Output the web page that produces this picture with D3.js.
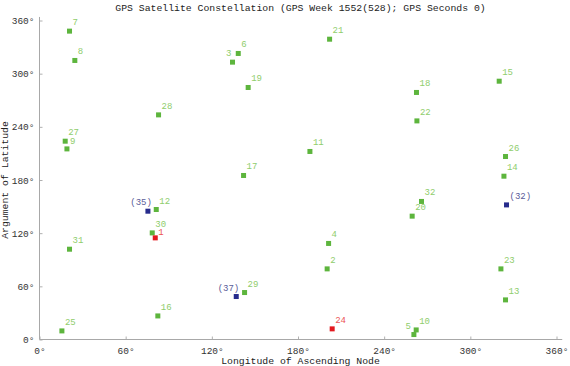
<!DOCTYPE html>
<html>
<head>
<meta charset="utf-8">
<script src="https://cdn.jsdelivr.net/npm/d3@7"></script>
<style>
  body { margin: 0; background: #fff; }
  svg text { font-family: "Liberation Mono", "DejaVu Sans Mono", monospace; }
</style>
</head>
<body>
<svg id="chart" width="570" height="366"></svg>
<script>
// satellite labels, longitude of ascending node (deg), argument of latitude (deg)
const satNames = ["7", "8", "3", "6", "19", "28", "27", "9", "17",
    "21", "15", "18", "22", "11", "26", "14",
    "(35)", "12", "30", "1", "31", "(37)", "29", "16", "25",
    "32", "(32)", "20", "4", "2", "23", "13", "24", "5", "10"];
const satLon = [20.9, 24.6, 134.4, 138.4, 145.3, 82.9, 17.9, 19.1, 142.1,
    202.0, 320.1, 262.5, 262.8, 188.3, 324.5, 323.4,
    75.5, 81.3, 78.5, 80.6, 20.9, 137.0, 142.8, 82.4, 15.6,
    266.0, 325.2, 259.5, 201.3, 200.3, 321.3, 324.5, 203.8, 260.7, 262.3];
const satLat = [348.0, 314.9, 313.0, 322.8, 284.4, 253.5, 223.8, 215.1, 185.1,
    338.9, 291.5, 278.8, 246.7, 212.2, 206.5, 184.3,
    144.8, 146.7, 120.3, 114.7, 101.9, 48.5, 53.0, 26.6, 9.7,
    155.8, 151.9, 139.2, 108.4, 79.7, 79.7, 44.7, 12.0, 5.6, 10.8];
// "ok" = healthy, "bad" = unhealthy, "spare" = entries in parentheses
const satStatus = ["ok", "ok", "ok", "ok", "ok", "ok", "ok", "ok", "ok",
    "ok", "ok", "ok", "ok", "ok", "ok", "ok",
    "spare", "ok", "ok", "bad", "ok", "spare", "ok", "ok", "ok",
    "ok", "spare", "ok", "ok", "ok", "ok", "ok", "bad", "ok", "ok"];
const tickDegrees = [0, 60, 120, 180, 240, 300, 360];

const markerColor = { ok: "#5db53d", bad: "#e3191f", spare: "#262b8c" };
const labelColor = { ok: "#8fcd6c", bad: "#ec5456", spare: "#5b5c99" };
// labels drawn on the left of their marker (text-anchor end), with x shift
const leftLabels = { "3": -1, "5": -3, "(35)": 4, "(37)": 3 };

const svg = d3.select("#chart");
const x = d3.scaleLinear().domain([0, 360]).range([39.5, 556.5]);
const y = d3.scaleLinear().domain([0, 360]).range([339.5, 20.5]);

const sats = satNames.map((n, i) => ({ name: n, lon: satLon[i], lat: satLat[i], status: satStatus[i] }));

// axes
const xAxis = svg.append("g")
    .attr("transform", `translate(0,${y(0)})`)
    .call(d3.axisBottom(x).tickValues(tickDegrees).tickFormat(d => d + "°").tickSizeInner(-3).tickSizeOuter(0).tickPadding(8));
const yAxis = svg.append("g")
    .attr("transform", `translate(${x(0)},0)`)
    .call(d3.axisLeft(y).tickValues(tickDegrees).tickFormat(d => d + "°").tickSizeInner(-3).tickSizeOuter(0).tickPadding(5));
[xAxis, yAxis].forEach(a => {
    a.select(".domain").remove();
    a.selectAll(".tick line").attr("stroke", "#b0b0b0");
    a.selectAll(".tick text").attr("fill", "#333").style("font-size", "9.5px");
});
svg.append("line").attr("x1", x(0)).attr("x2", x(364)).attr("y1", y(0)).attr("y2", y(0))
    .attr("stroke", "#a8a8a8");
svg.append("line").attr("x1", x(0)).attr("x2", x(0)).attr("y1", y(0)).attr("y2", y(364))
    .attr("stroke", "#a8a8a8");

// titles
svg.append("text").attr("x", 300.5).attr("y", 11).attr("text-anchor", "middle")
    .style("font-size", "9.8px").attr("fill", "#222")
    .text("GPS Satellite Constellation (GPS Week 1552(528); GPS Seconds 0)");
svg.append("text").attr("x", 300.5).attr("y", 364).attr("text-anchor", "middle")
    .style("font-size", "9.8px").attr("fill", "#222")
    .text("Longitude of Ascending Node");
svg.append("text").attr("transform", `translate(8,${y(180)}) rotate(-90)`).attr("text-anchor", "middle")
    .style("font-size", "9.8px").attr("fill", "#222")
    .text("Argument of Latitude");

// markers
const pts = svg.append("g").selectAll("g").data(sats).join("g")
    .attr("transform", d => `translate(${x(d.lon)},${y(d.lat)})`);
pts.append("rect").attr("x", -2.5).attr("y", -2.5).attr("width", 5).attr("height", 5)
    .attr("fill", d => markerColor[d.status]);
pts.append("text")
    .attr("x", d => d.name in leftLabels ? leftLabels[d.name] : 3)
    .attr("y", d => d.name === "1" ? -2.5 : d.name === "9" ? -5 : -6)
    .attr("text-anchor", d => d.name in leftLabels ? "end" : "start")
    .style("font-size", "9px")
    .attr("fill", d => labelColor[d.status])
    .text(d => d.name);
</script>
</body>
</html>
